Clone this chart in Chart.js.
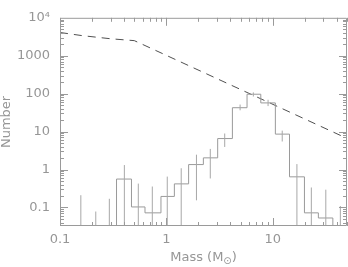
<!DOCTYPE html>
<html>
<head>
<meta charset="utf-8">
<script src="https://cdn.jsdelivr.net/npm/chart.js@4/dist/chart.umd.min.js"></script>
<style>
  html, body { margin: 0; padding: 0; background: #fff; }
  canvas { display: block; }
</style>
</head>
<body>
<canvas id="chart-canvas" width="348" height="267"></canvas>
<script>
// histogram bin edges (Msun) and counts per bin
const binEdges = [0.34, 0.47, 0.63, 0.89, 1.19, 1.62, 2.23, 3.04, 4.18, 5.74, 7.73, 10.6, 14.4, 19.9, 26.9, 36.8];
const binCounts = [0.56, 0.103, 0.072, 0.195, 0.418, 1.35, 2.03, 6.55, 42.6, 96.6, 57.0, 8.57, 0.641, 0.072, 0.0527];

// error bars: centre, low end, high end (0.01 = runs off the bottom)
const errMass = [0.157, 0.217, 0.291, 0.403, 0.545, 0.738, 1.02, 1.38, 1.92, 2.59, 3.54, 4.94, 6.58, 9.05, 12.3, 16.9, 23.1, 31.6, 43.3];
const errLow  = [0.01, 0.01, 0.01, 0.01, 0.01, 0.01, 0.01, 0.01, 0.154, 0.58, 3.93, 36.4, 84, 47, 5.48, 0.01, 0.01, 0.01, 0.01];
const errHigh = [0.21, 0.078, 0.169, 1.31, 0.425, 0.356, 0.65, 1.08, 2.46, 3.49, 8.9, 51.6, 108, 69, 10.6, 1.39, 0.336, 0.294, 0.109];

// dashed reference curve
const imfMass = [0.1, 0.16, 0.3, 0.5, 50];
const imfNumber = [4100, 3400, 2800, 2500, 6.6];

const xTicks = [0.1, 1, 10];
const yTicks = [0.1, 1, 10, 100, 1000, 10000];

const textColor = '#969696';
const lineColor = '#9a9a9a';
const font = { family: 'DejaVu Sans', size: 13 };

// step line: up from the bottom, across every bin, back down
const histPoints = [{ x: binEdges[0], y: 0.01 }];
binCounts.forEach((c, i) => histPoints.push({ x: binEdges[i], y: c }));
histPoints.push({ x: binEdges[binEdges.length - 1], y: binCounts[binCounts.length - 1] });
histPoints.push({ x: binEdges[binEdges.length - 1], y: 0.01 });

const errPoints = [];
errMass.forEach((m, i) => {
    errPoints.push({ x: m, y: errLow[i] }, { x: m, y: errHigh[i] }, { x: m, y: null });
});

// box with inward ticks on all four sides, plus axis titles
const frame = {
    id: 'frame',
    afterDraw(chart) {
        const { ctx, chartArea: a, scales: { x, y } } = chart;
        ctx.save();
        ctx.strokeStyle = lineColor;
        ctx.lineWidth = 1;
        ctx.beginPath();
        ctx.rect(a.left + 0.5, a.top + 0.5, a.right - a.left - 1, a.bottom - a.top - 1);

        for (let d = 0.1; d <= 10; d *= 10) {
            for (let k = 1; k <= 9; k++) {
                const v = d * k;
                if (v > 50.01) break;
                const px = Math.round(x.getPixelForValue(v)) + 0.5;
                const len = k === 1 ? 8 : 4;
                ctx.moveTo(px, a.bottom); ctx.lineTo(px, a.bottom - len);
                ctx.moveTo(px, a.top); ctx.lineTo(px, a.top + len);
            }
        }
        for (let d = 0.01; d <= 1000; d *= 10) {
            for (let k = 1; k <= 9; k++) {
                const v = d * k;
                if (v < 0.032) continue;
                const py = Math.round(y.getPixelForValue(v)) + 0.5;
                const len = k === 1 ? 8 : 4;
                ctx.moveTo(a.left, py); ctx.lineTo(a.left + len, py);
                ctx.moveTo(a.right, py); ctx.lineTo(a.right - len, py);
            }
        }
        ctx.stroke();

        ctx.fillStyle = textColor;
        ctx.font = '13px "DejaVu Sans"';
        ctx.textBaseline = 'middle';
        ctx.textAlign = 'center';
        ctx.save();
        ctx.translate(7, (a.top + a.bottom) / 2);
        ctx.rotate(-Math.PI / 2);
        ctx.fillText('Number', 0, 0);
        ctx.restore();

        // Mass (M_sun) with a lowered sun symbol
        ctx.textBaseline = 'alphabetic';
        ctx.textAlign = 'left';
        const main = 'Mass (M';
        ctx.font = '13px "DejaVu Sans"';
        const w1 = ctx.measureText(main).width;
        const w3 = ctx.measureText(')').width;
        ctx.font = '10px "DejaVu Sans"';
        const w2 = ctx.measureText('⊙').width;
        let tx = (a.left + a.right) / 2 - (w1 + w2 + w3) / 2;
        const base = 261;
        ctx.font = '13px "DejaVu Sans"';
        ctx.fillText(main, tx, base);
        ctx.font = '10px "DejaVu Sans"';
        ctx.fillText('⊙', tx + w1, base + 3);
        ctx.font = '13px "DejaVu Sans"';
        ctx.fillText(')', tx + w1 + w2, base);
        ctx.restore();
    }
};

new Chart(document.getElementById('chart-canvas'), {
    type: 'line',
    data: {
        datasets: [
            {
                label: 'errors',
                data: errPoints,
                borderColor: '#a8a8a8',
                borderWidth: 1,
                pointRadius: 0,
                spanGaps: false
            },
            {
                label: 'histogram',
                data: histPoints,
                borderColor: lineColor,
                borderWidth: 1,
                pointRadius: 0,
                stepped: 'before'
            },
            {
                label: 'imf',
                data: imfMass.map((m, i) => ({ x: m, y: imfNumber[i] })),
                borderColor: '#505050',
                borderWidth: 1,
                borderDash: [8, 6],
                pointRadius: 0,
                tension: 0
            }
        ]
    },
    options: {
        responsive: false,
        animation: false,
        devicePixelRatio: 1,
        // the top tick label adds 7.8px on its own
        layout: { padding: { top: 2.2, right: 1, left: 0, bottom: 0 } },
        plugins: { legend: { display: false }, tooltip: { enabled: false } },
        scales: {
            x: {
                type: 'logarithmic',
                min: 0.1,
                max: 50,
                grid: { display: false, drawTicks: false },
                border: { display: false },
                afterBuildTicks: s => { s.ticks = xTicks.map(v => ({ value: v })); },
                afterFit: s => { s.height = 41; },
                ticks: {
                    color: textColor,
                    font: font,
                    padding: 6,
                    maxRotation: 0,
                    autoSkip: false,
                    callback: v => String(v)
                }
            },
            y: {
                type: 'logarithmic',
                min: 0.0324,
                max: 10000,
                grid: { display: false, drawTicks: false },
                border: { display: false },
                afterBuildTicks: s => { s.ticks = yTicks.map(v => ({ value: v })); },
                afterFit: s => { s.width = 60; },
                ticks: {
                    color: textColor,
                    font: font,
                    padding: 10,
                    autoSkip: false,
                    callback: v => v === 10000 ? '10⁴' : String(v)
                }
            }
        }
    },
    plugins: [frame]
});
</script>
</body>
</html>
